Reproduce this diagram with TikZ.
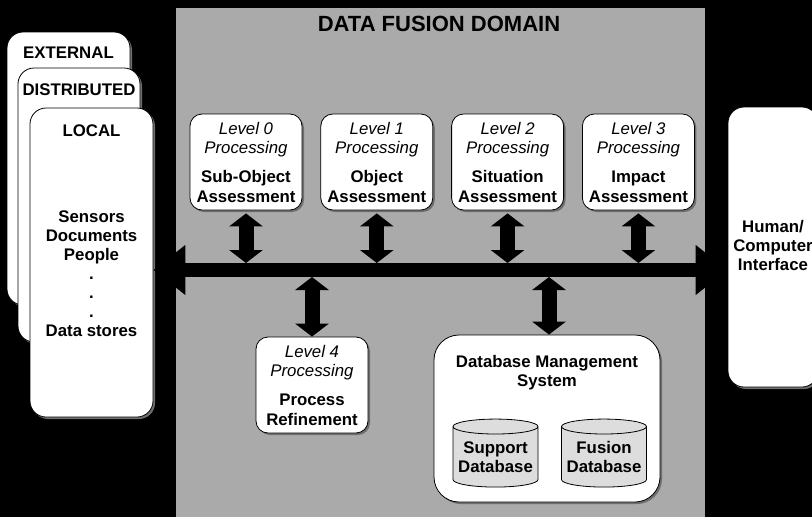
\documentclass[tikz,border=0pt]{standalone}
\usepackage{fontspec}
\setmainfont{Liberation Sans}
\usetikzlibrary{positioning, arrows.meta, shapes.geometric, shadows}
\definecolor{domaingray}{HTML}{AAAAAA}
\definecolor{dbgray}{HTML}{DDDDDD}
\definecolor{shadowgray}{HTML}{6E6E6E}

\begin{document}
\begin{tikzpicture}[
    x=1pt, y=-1pt,
    node distance=18pt,
    every node/.style={font=\fontsize{16.8}{19}\selectfont},
    card/.style={rectangle, draw, fill=white, line width=0.8pt, rounded corners=16pt,
        drop shadow={shadow xshift=2pt, shadow yshift=-2pt, fill=shadowgray, opacity=1}},
    proc/.style={card, rounded corners=12pt, minimum width=112pt, minimum height=96pt, inner sep=0pt, align=center},
    db/.style={cylinder, shape border rotate=90, aspect=0.2, draw, fill=dbgray, line width=0.8pt,
        minimum width=85pt, minimum height=68pt, inner sep=0pt, align=center, font=\bfseries\fontsize{16.8}{19}\selectfont},
    txt/.style={inner sep=0pt, align=center, font=\bfseries\fontsize{16.8}{19}\selectfont},
    bus/.style={line width=14pt, {Triangle[length=32pt,width=48pt]}-{Triangle[length=32pt,width=48pt]}},
    link/.style={line width=15pt, {Triangle[length=13pt,width=33pt]}-{Triangle[length=13pt,width=33pt]}}
]
\useasboundingbox (0,0) rectangle (812,517);
\clip (0,0) rectangle (812,517);
\fill[black] (0,0) rectangle (812,517);

% Domain
\node (domain) [rectangle, fill=domaingray, minimum width=529pt, minimum height=509pt, inner sep=0pt] at (440.5,262.5) {};
\node (title) [font=\bfseries\fontsize{22}{26}\selectfont] at (439,24) {DATA FUSION DOMAIN};

% Sources
\node (ext) [card, minimum width=123pt, minimum height=273pt] at (68.5,168.5) {};
\node (exttxt) [txt, below=15pt of ext.north] {EXTERNAL};
\node (dist) [card, minimum width=122pt, minimum height=274pt] at (79,205) {};
\node (disttxt) [txt, below=16pt of dist.north] {DISTRIBUTED};
\node (local) [card, minimum width=123pt, minimum height=309pt] at (91.5,262.5) {};
\node (localtxt) [txt, below=17pt of local.north] {LOCAL};
\node (sources) [txt] at (91.5,274) {Sensors\\Documents\\People\\.\\.\\.\\Data stores};

% Interface
\node (hci) [card, minimum width=90pt, minimum height=280pt] at (773,247) {};
\node (hcitxt) [txt] at (773,245) {Human/\\Computer\\Interface};

% Processing levels
\node (l0) [proc] at (246,162) {\textit{Level 0}\\\textit{Processing}\\[10pt]\textbf{Sub-Object}\\[1pt]\textbf{Assessment}};
\node (l1) [proc, right=18pt of l0] {\textit{Level 1}\\\textit{Processing}\\[10pt]\textbf{Object}\\[1pt]\textbf{Assessment}};
\node (l2) [proc, right=18pt of l1] {\textit{Level 2}\\\textit{Processing}\\[10pt]\textbf{Situation}\\[1pt]\textbf{Assessment}};
\node (l3) [proc, right=18pt of l2] {\textit{Level 3}\\\textit{Processing}\\[10pt]\textbf{Impact}\\[1pt]\textbf{Assessment}};
\node (l4) [proc] at (312,385) {\textit{Level 4}\\\textit{Processing}\\[10pt]\textbf{Process}\\[1pt]\textbf{Refinement}};

% Database management
\node (dbms) [card, rounded corners=25pt, minimum width=226pt, minimum height=167pt] at (547,418.5) {};
\node (dbmstxt) [txt, below=21pt of dbms.north] {Database Management\\System};
\node (sdb) [db] at (495.5,457) {Support\\Database};
\node (fdb) [db] at (604,457) {Fusion\\Database};

% Arrows
\coordinate (bus) at (0,270);
\draw [bus] (local.east |- bus) -- (hci.west |- bus);
\foreach \lvl in {l0,l1,l2,l3}
  \draw [link, shorten <=3pt, shorten >=7pt] (\lvl.south) -- (\lvl.south |- bus);
\draw [link, shorten <=7pt] (l4.north |- bus) -- (l4.north);
\draw [link, shorten <=7pt] ([xshift=2pt]dbms.north |- bus) -- ([xshift=2pt]dbms.north);

\end{tikzpicture}
\end{document}
